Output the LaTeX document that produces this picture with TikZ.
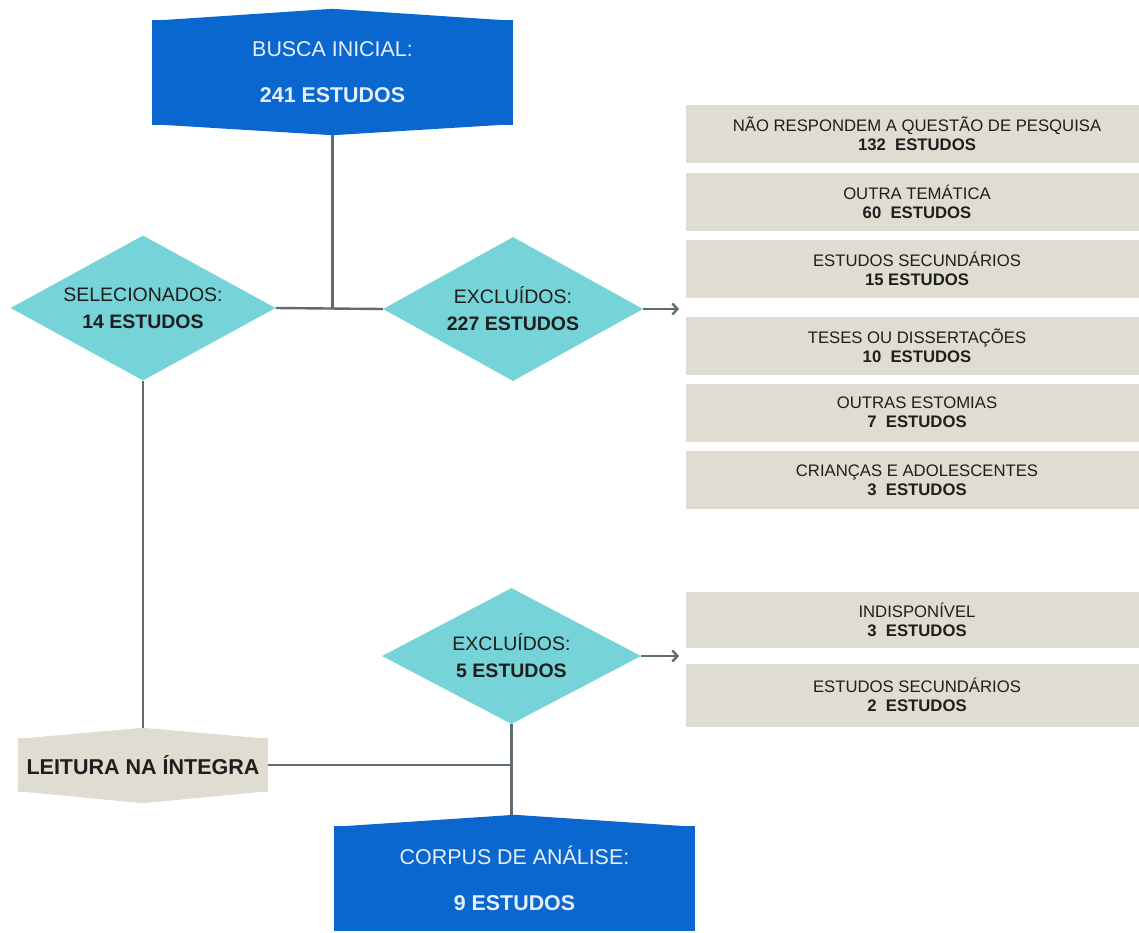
\documentclass[tikz,border=0pt]{standalone}
\usepackage{fontspec}
\setmainfont{Liberation Sans}
\usetikzlibrary{shapes.geometric,arrows.meta}

\definecolor{boxblue}{HTML}{0A67D0}
\definecolor{bluetext}{HTML}{E6EEF9}
\definecolor{diamteal}{HTML}{76D3D8}
\definecolor{boxbeige}{HTML}{DFDDD1}
\definecolor{linkgray}{HTML}{5F6B72}
\definecolor{darktext}{HTML}{1E1E1E}

\tikzset{
  bluebox/.style={rectangle, fill=boxblue, text=bluetext, inner sep=0pt,
    minimum width=361pt, minimum height=105pt, align=center,
    font=\fontsize{21.4}{46}\selectfont},
  tealdiamond/.style={diamond, fill=diamteal, text=darktext, inner sep=0pt,
    aspect=1.85, align=center, font=\fontsize{19.5}{27}\selectfont},
  beigebox/.style={rectangle, fill=boxbeige, text=darktext, inner sep=0pt,
    minimum width=462pt, minimum height=58pt, align=center,
    font=\fontsize{16.7}{19}\selectfont},
  link/.style={draw=linkgray, line width=2.4pt},
  linkarrow/.style={link, -{Straight Barb[length=5pt,width=11pt,line width=2.4pt]}}
}

\begin{document}
\begin{tikzpicture}[x=1pt,y=1pt]
  \useasboundingbox (0,0) rectangle (1139,-932);

  % blue boxes
  \node[bluebox] (busca) at (332.5,-72.5) {BUSCA INICIAL:\\\textbf{241 ESTUDOS}};
  \fill[boxblue] ([yshift=-1pt]busca.north west) -- ([yshift=11pt]busca.north) -- ([yshift=-1pt]busca.north east) -- cycle;
  \fill[boxblue] ([yshift=1pt]busca.south west) -- ([yshift=-10pt]busca.south) -- ([yshift=1pt]busca.south east) -- cycle;
  \coordinate (buscatip) at ([yshift=-10pt]busca.south);

  \node[bluebox] (corpus) at (514.5,-878.5) {CORPUS DE AN\'ALISE:\\\textbf{9 ESTUDOS}};
  \fill[boxblue] ([yshift=-1pt]corpus.north west) -- ([yshift=11pt]corpus.north) -- ([yshift=-1pt]corpus.north east) -- cycle;
  \coordinate (corpustip) at ([yshift=11pt]corpus.north);

  % diamonds
  \node[tealdiamond, minimum width=265pt, minimum height=145pt] (selec) at (143,-308) {SELECIONADOS:\\\textbf{14 ESTUDOS}};
  \node[tealdiamond, minimum width=260pt, minimum height=144pt] (excl1) at (513,-309) {EXCLU\'IDOS:\\\textbf{227 ESTUDOS}};
  \node[tealdiamond, minimum width=259pt, minimum height=136pt] (excl2) at (511.5,-656) {EXCLU\'IDOS:\\\textbf{5 ESTUDOS}};

  % leitura
  \node[rectangle, fill=boxbeige, text=darktext, inner sep=0pt, minimum width=250pt, minimum height=54pt,
    font=\bfseries\fontsize{21.5}{25}\selectfont] (leitura) at (143,-765) {LEITURA NA \'INTEGRA};
  \fill[boxbeige] ([yshift=-1pt]leitura.north west) -- ([yshift=10pt]leitura.north) -- ([yshift=-1pt]leitura.north east) -- cycle;
  \fill[boxbeige] ([yshift=1pt]leitura.south west) -- ([yshift=-11pt]leitura.south) -- ([yshift=1pt]leitura.south east) -- cycle;
  \coordinate (leituratip) at ([yshift=10pt]leitura.north);

  % exclusion reasons (right part runs off the page)
  \node[beigebox] (motivo1) at (917,-133.5) {N\~AO RESPONDEM A QUEST\~AO DE PESQUISA\\\textbf{132\ \ ESTUDOS}};
  \node[beigebox] (motivo2) at (917,-202) {OUTRA TEM\'ATICA\\\textbf{60\ \ ESTUDOS}};
  \node[beigebox] (motivo3) at (917,-269) {ESTUDOS SECUND\'ARIOS\\\textbf{15 ESTUDOS}};
  \node[beigebox] (motivo4) at (917,-346) {TESES OU DISSERTA\c{C}\~OES\\\textbf{10\ \ ESTUDOS}};
  \node[beigebox] (motivo5) at (917,-412.5) {OUTRAS ESTOMIAS\\\textbf{7\ \ ESTUDOS}};
  \node[beigebox] (motivo6) at (917,-480) {CRIAN\c{C}AS E ADOLESCENTES\\\textbf{3\ \ ESTUDOS}};
  \node[beigebox, minimum height=56pt] (motivo7) at (917,-620) {INDISPON\'IVEL\\\textbf{3\ \ ESTUDOS}};
  \node[beigebox, minimum height=63pt] (motivo8) at (917,-695) {ESTUDOS SECUND\'ARIOS\\\textbf{2\ \ ESTUDOS}};

  % connectors
  \coordinate (excl1end) at (679,-309);
  \coordinate (excl2end) at (679,-656);
  \draw[link] (buscatip) -- (buscatip |- selec.east);
  \draw[link] (selec.east) -- (excl1.west);
  \draw[linkarrow] (excl1.east) -- (excl1end);
  \draw[link] (selec.south) -- (leituratip);
  \draw[link] (leitura.east) -- (excl2.south |- leitura.east);
  \draw[link] (excl2.south) -- (excl2.south |- corpustip);
  \draw[linkarrow] (excl2.east) -- (excl2end);
\end{tikzpicture}
\end{document}
